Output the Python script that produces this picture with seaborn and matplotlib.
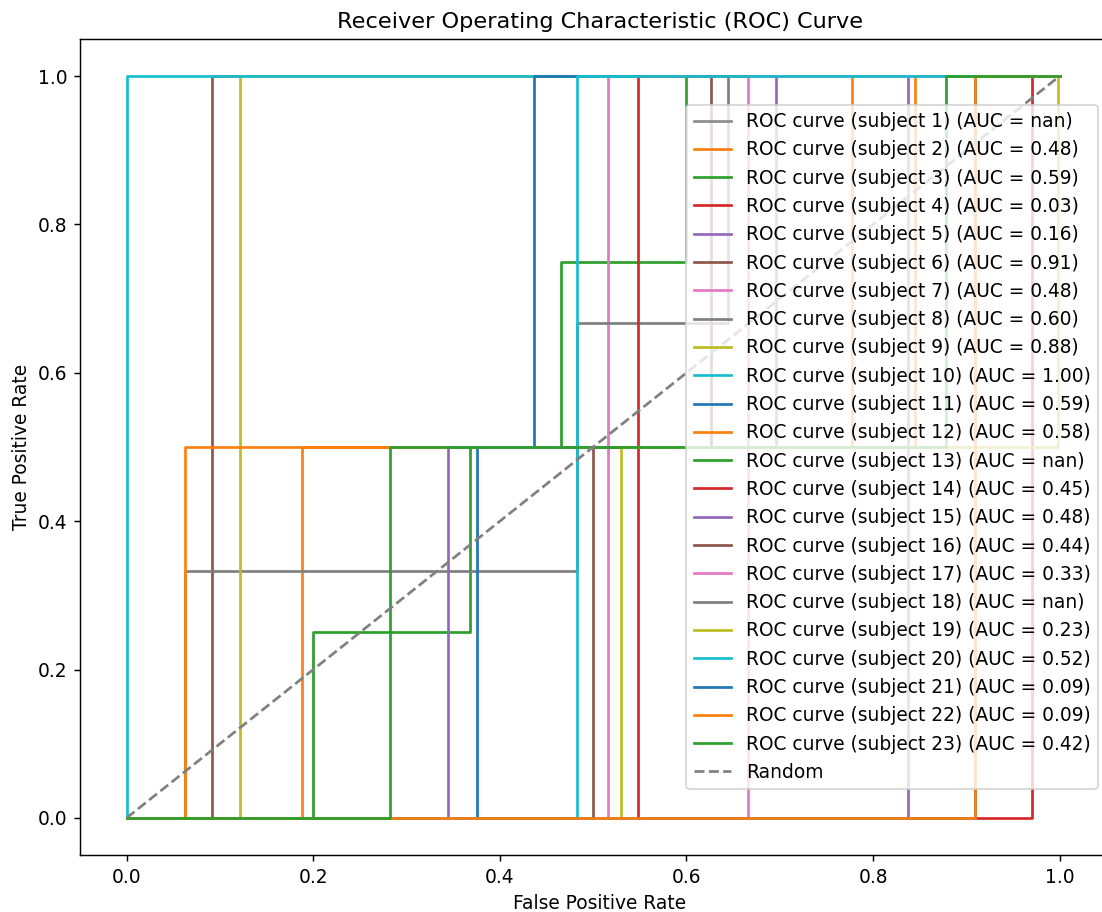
import numpy as np
import pandas as pd
import matplotlib
matplotlib.use('Agg')
import matplotlib.pyplot as plt
import seaborn as sns

nan = np.nan

subjects = list(range(1, 24))
auc_values = [nan, 0.48, 0.59, 0.03, 0.16, 0.91, 0.48, 0.60, 0.88, 1.00, 0.59, 0.58,
              nan, 0.45, 0.48, 0.44, 0.33, nan, 0.23, 0.52, 0.09, 0.09, 0.42]

# roc points (fpr / tpr per subject)
fpr_points = [
    [0, 0.5, 1],
    [0, 0.188, 0.188, 0.845, 0.845, 1],
    [0, 0.2, 0.2, 0.368, 0.368, 0.466, 0.466, 0.6, 0.6, 1],
    [0, 0.97, 0.97, 1],
    [0, 0.837, 0.837, 1],
    [0, 0.091, 0.091, 1],
    [0, 0.516, 0.516, 1],
    [0, 0.063, 0.063, 0.483, 0.483, 0.644, 0.644, 1],
    [0, 0.121, 0.121, 1],
    [0, 0, 1],
    [0, 0.375, 0.375, 0.437, 0.437, 1],
    [0, 0.063, 0.063, 0.777, 0.777, 1],
    [0, 0.5, 1],
    [0, 0.548, 0.548, 1],
    [0, 0.344, 0.344, 0.696, 0.696, 1],
    [0, 0.5, 0.5, 0.626, 0.626, 1],
    [0, 0.666, 0.666, 1],
    [0, 0.5, 1],
    [0, 0.53, 0.53, 0.998, 0.998, 1],
    [0, 0.483, 0.483, 1],
    [0, 0.909, 0.909, 1],
    [0, 0.909, 0.909, 1],
    [0, 0.282, 0.282, 0.878, 0.878, 1],
]
tpr_points = [
    [nan, nan, nan],
    [0, 0, 0.5, 0.5, 1, 1],
    [0, 0, 0.25, 0.25, 0.5, 0.5, 0.75, 0.75, 1, 1],
    [0, 0, 1, 1],
    [0, 0, 1, 1],
    [0, 0, 1, 1],
    [0, 0, 1, 1],
    [0, 0, 0.333, 0.333, 0.667, 0.667, 1, 1],
    [0, 0, 1, 1],
    [0, 1, 1],
    [0, 0, 0.5, 0.5, 1, 1],
    [0, 0, 0.5, 0.5, 1, 1],
    [nan, nan, nan],
    [0, 0, 1, 1],
    [0, 0, 0.5, 0.5, 1, 1],
    [0, 0, 0.5, 0.5, 1, 1],
    [0, 0, 1, 1],
    [nan, nan, nan],
    [0, 0, 0.5, 0.5, 1, 1],
    [0, 0, 1, 1],
    [0, 0, 1, 1],
    [0, 0, 1, 1],
    [0, 0, 0.5, 0.5, 1, 1],
]

colors = sns.color_palette('tab10', 10)
colors = [colors[i % 10] for i in range(len(subjects))]
colors[0] = '#8c8c8c'

plt.rcParams['font.size'] = 10.3

fig = plt.figure(figsize=(1102 / 130, 912 / 130), dpi=130)
# axes run a little past the right edge, like the cropped original
ax = fig.add_axes([80 / 1102, 57 / 912, 1040 / 1102, 816 / 912])

for s, fpr, tpr, auc, c in zip(subjects, fpr_points, tpr_points, auc_values, colors):
    lab = f'ROC curve (subject {s}) (AUC = {auc:.2f})'
    if np.isnan(auc):
        ax.plot(fpr, tpr, color=c, label=lab)
    else:
        sns.lineplot(x=fpr, y=tpr, color=c, label=lab, estimator=None, sort=False, ax=ax)

ax.plot([0, 1], [0, 1], linestyle='--', color='gray', label='Random')
ax.set_xlim(-0.05, -0.05 + 1040 / 933)
ax.set_ylim(-0.05, 1.05)
ax.set_xlabel('False Positive Rate')
ax.set_ylabel('True Positive Rate')
ax.set_title('Receiver Operating Characteristic (ROC) Curve')
ax.legend(loc='center right', bbox_to_anchor=((1098 - 80) / 1040, 0.5), borderaxespad=0)

fig.savefig('out.png', dpi=130)
